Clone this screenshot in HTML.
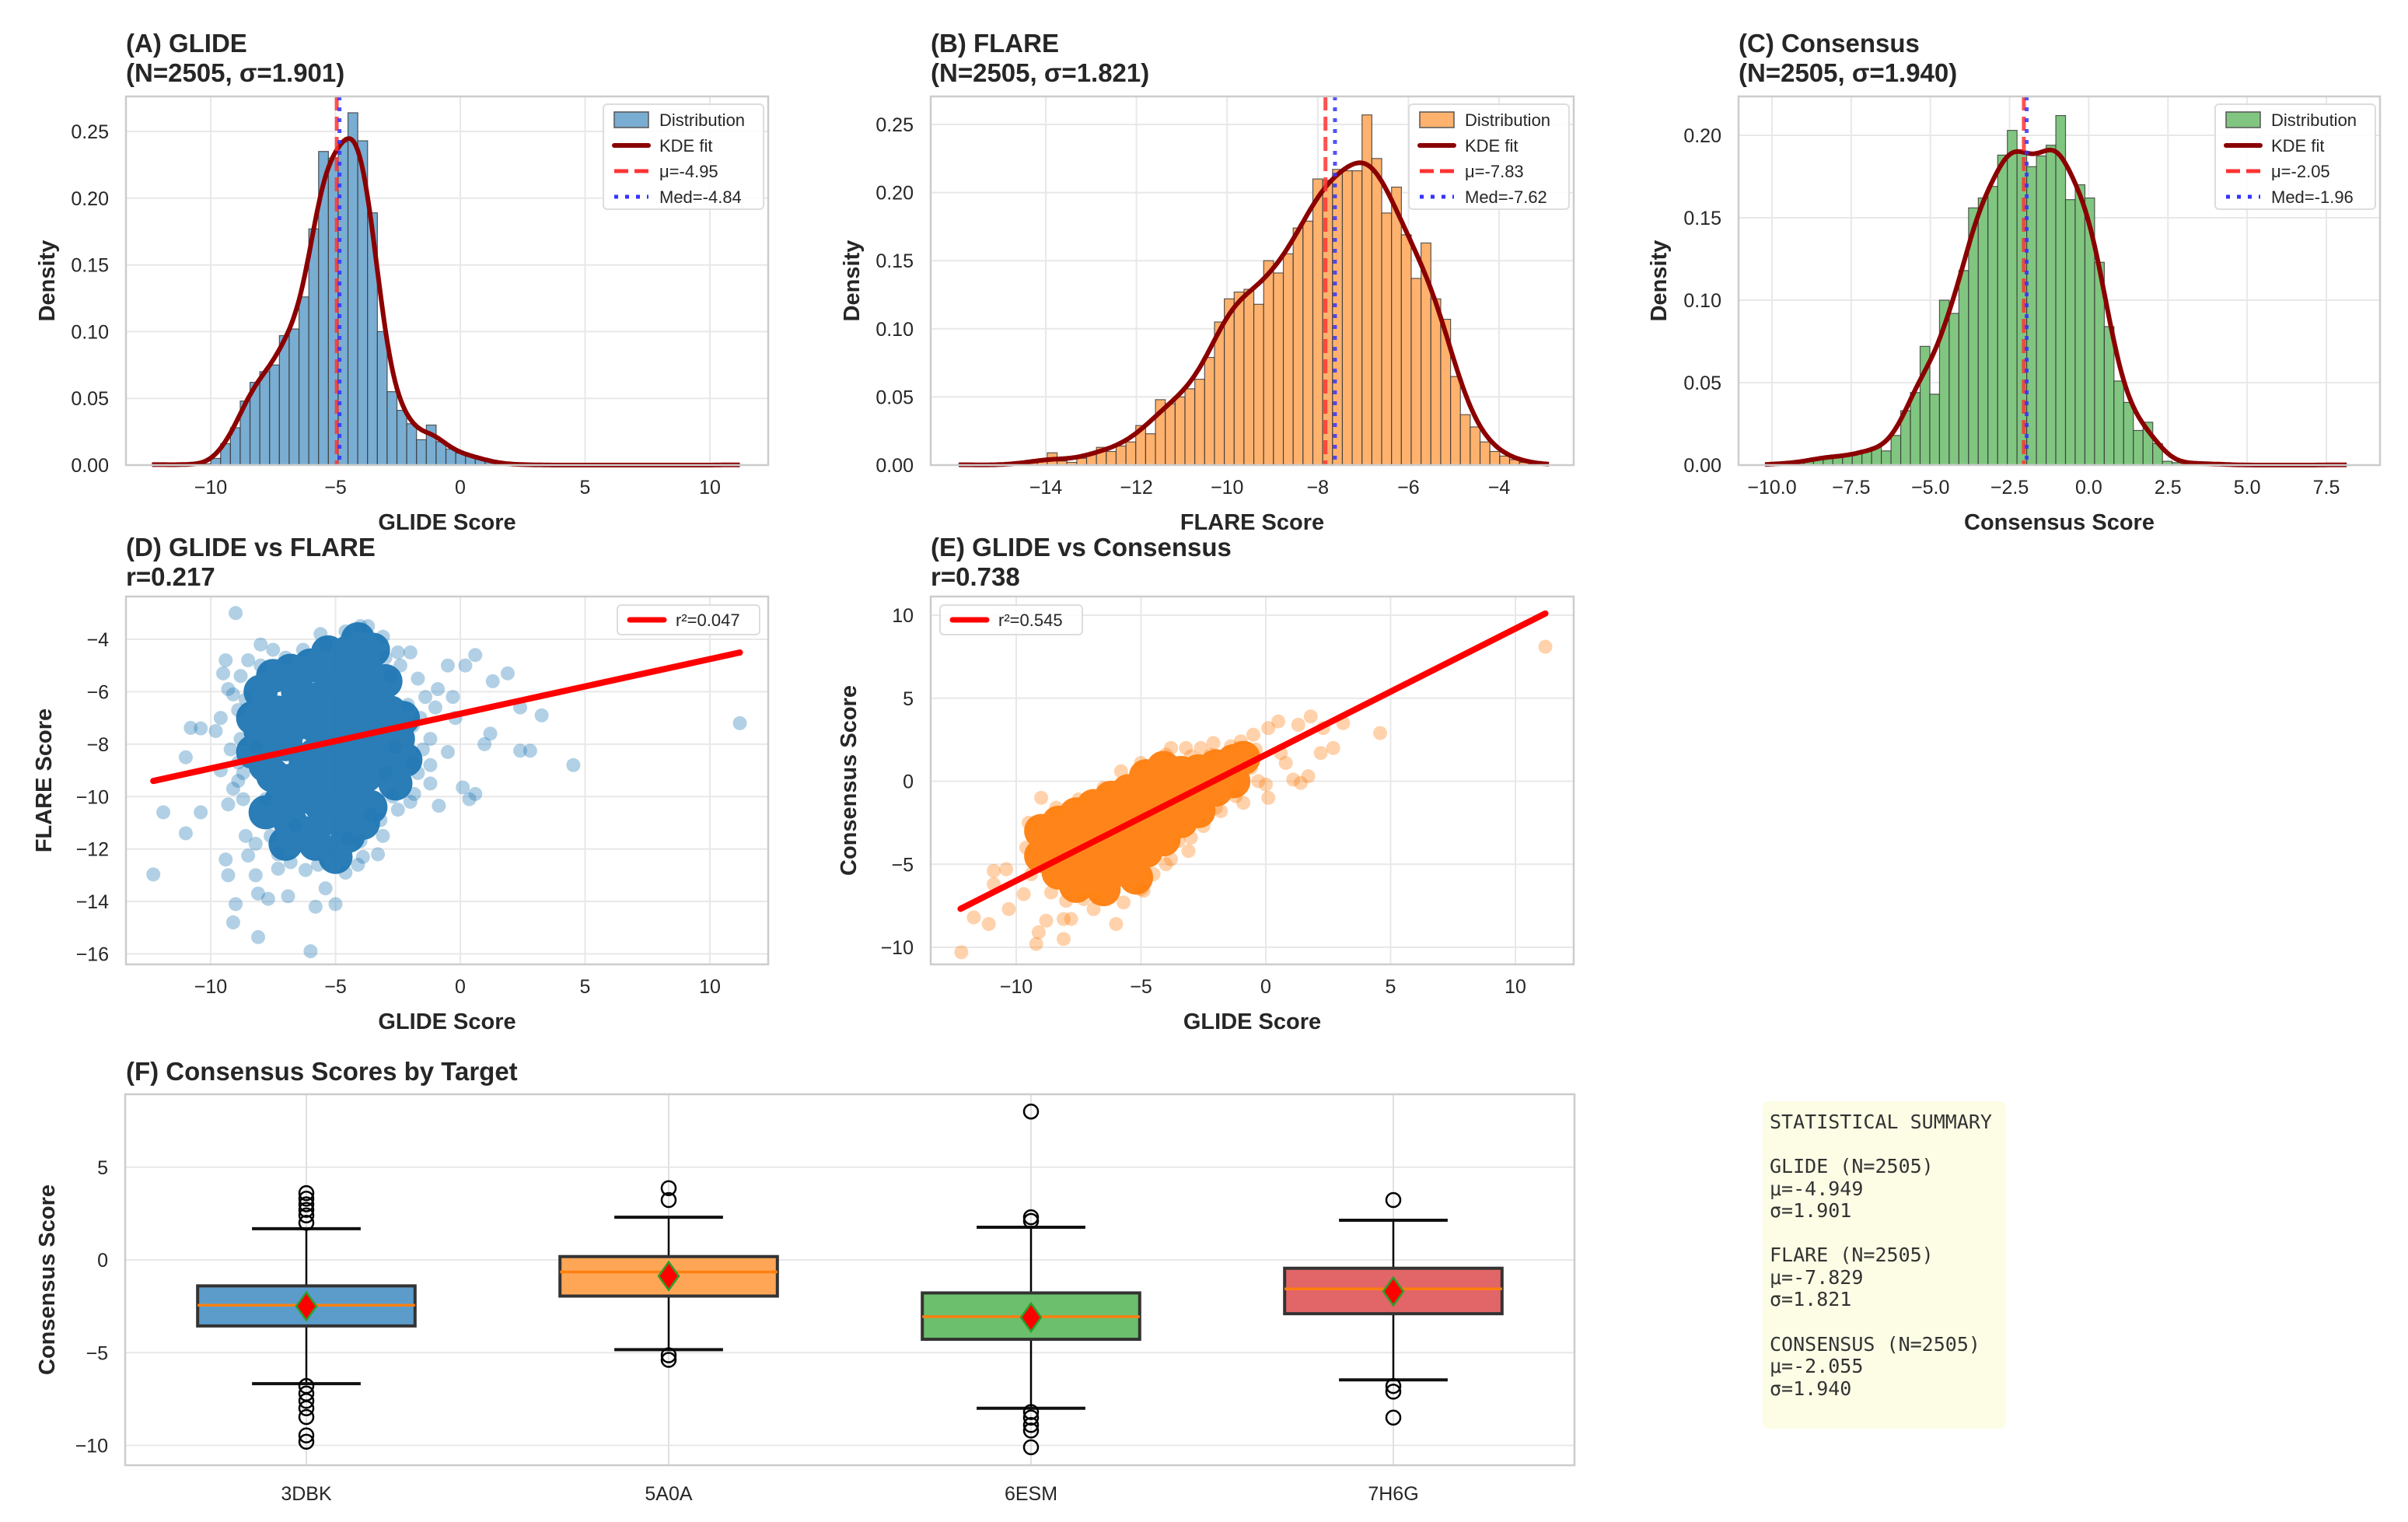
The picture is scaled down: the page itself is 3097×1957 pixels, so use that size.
<!DOCTYPE html>
<html><head><meta charset="utf-8"><style>
body{margin:0;background:#fff}
svg text{font-family:"Liberation Sans",sans-serif}
.tk{font-size:25px;fill:#262626}
.al{font-size:29px;font-weight:bold;fill:#262626}
.tt{font-size:33px;font-weight:bold;fill:#262626}
.lg{font-size:22px;fill:#262626}
.mono{font-family:"DejaVu Sans Mono","Liberation Mono",monospace;font-size:25px;fill:#333}
</style></head><body>
<svg id="fig" xmlns="http://www.w3.org/2000/svg" width="3097" height="1952" viewBox="0 0 3097 1952">
<rect width="3097" height="1952" fill="#fff"/>
</svg>
<script>
// ---------- data ----------
const glideHist = [0.001,0,0,0.001,0,0.001,0.005,0.016,0.028,0.048,0.062,0.070,0.075,0.097,0.102,0.126,0.177,0.235,0.230,0.242,0.264,0.243,0.189,0.100,0.055,0.041,0.031,0.019,0.030,0.0175,0.012,0.009,0.007,0.005,0.003,0.001,0.001,0,0.0005,0,0,0,0,0,0,0,0,0,0,0,0,0,0,0,0,0,0,0,0,0.0005];
const flareHist = [0.001,0,0,0,0,0,0.002,0.002,0.003,0.009,0.003,0.002,0.005,0.0085,0.013,0.010,0.014,0.017,0.029,0.023,0.048,0.045,0.050,0.056,0.063,0.079,0.105,0.122,0.127,0.129,0.118,0.150,0.141,0.155,0.174,0.179,0.210,0.209,0.217,0.216,0.216,0.257,0.225,0.185,0.204,0.169,0.137,0.163,0.122,0.107,0.065,0.037,0.028,0.017,0.010,0.0066,0.004,0.002,0.001,0.0005];
const consHist = [0.0005,0.001,0.001,0.0015,0.003,0.004,0.0055,0.005,0.0055,0.007,0.0086,0.011,0.0086,0.018,0.033,0.044,0.072,0.043,0.100,0.092,0.118,0.156,0.162,0.169,0.188,0.203,0.190,0.181,0.1875,0.194,0.212,0.161,0.170,0.162,0.123,0.084,0.051,0.038,0.021,0.026,0.013,0.0023,0.0015,0.001,0.001,0.001,0.0005,0.0005,0,0,0,0,0,0,0,0,0,0,0,0.0005];
const histStarts = [-12.35, -15.92, -10.22];
const histWidths = [0.3925, 0.217, 0.306];
const means = [-4.95, -7.83, -2.05];
const medians = [-4.84, -7.62, -1.96];
const meanLabels = ["μ=-4.95","μ=-7.83","μ=-2.05"];
const medLabels = ["Med=-4.84","Med=-7.62","Med=-1.96"];
const xTicksA = [-10,-5,0,5,10];
const xTicksB = [-14,-12,-10,-8,-6,-4];
const xTicksC = [-10,-7.5,-5,-2.5,0,2.5,5,7.5];
const xTickLabelsC = ["−10.0","−7.5","−5.0","−2.5","0.0","2.5","5.0","7.5"];
const yTicksAB = [0,0.05,0.10,0.15,0.20,0.25];
const yTicksC = [0,0.05,0.10,0.15,0.20];

const dCore = [[-4.5,-4.5],[-3.8,-5],[-5.2,-5.2],[-4.2,-6],[-5.5,-6.2],[-6.5,-6],[-3.3,-6.5],[-7.3,-6.8],[-4.8,-7],[-6,-7.2],[-3.5,-7.6],[-7,-8],[-5.2,-8],[-4.2,-8.5],[-6.2,-8.8],[-3.2,-8.8],[-7.5,-9.2],[-5.3,-9.3],[-4.3,-9.8],[-6.3,-10],[-5.2,-10.8],[-4.5,-11.5],[-6.8,-11],[-2.5,-7.8],[-8,-7.5],[-2.6,-9.5],[-7.2,-10.2],[-5.8,-11.8],[-4.1,-4],[-6.8,-5.2],[-8,-6],[-2.8,-6.8],[-5,-12.3],[-7.8,-8.8],[-4.8,-6.3],[-5.6,-7.5],[-4.9,-8.7],[-3.8,-9.2],[-6,-9.7],[-2.2,-8.6],[-7.5,-5.4],[-3,-5.6],[-6,-5],[-4.6,-5.5],[-6.8,-9.4],[-3.6,-10.4],[-5.6,-10.3],[-4.6,-10.4],[-6.2,-11.4],[-3.9,-11],[-7.8,-10.6],[-8.3,-7],[-2.3,-7],[-3.9,-6.9],[-6.5,-6.6],[-5.4,-6.8],[-6.9,-7.5],[-4.4,-7.6],[-5.8,-8.4],[-3.6,-8.2],[-8.3,-8.3],[-7,-11.8],[-5.3,-4.5],[-3.5,-4.4]];
const dPoints = [[-9,-3],[-10.8,-7.38],[-10.4,-7.4],[-9.8,-7.5],[-11,-8.5],[-11.9,-10.6],[-12.3,-12.97],[-11,-11.4],[-10.4,-10.6],[-9.1,-14.8],[-8.1,-15.36],[-6.0,-15.9],[-9.0,-14.1],[-8.1,-13.7],[-7.7,-13.9],[-6.9,-13.8],[-5.8,-14.2],[-5.0,-14.1],[-5.4,-13.5],[-4.6,-12.9],[-5.7,-12.6],[-6.8,-12.5],[-7.3,-12.75],[-8.2,-13],[-9.3,-13],[-9.4,-12.4],[-8.5,-12.25],[-3.9,-12.3],[-3.3,-12.2],[-4,-11.7],[-4.5,-11.6],[-3.2,-10.9],[-3.6,-10.7],[-0.86,-10.35],[0.36,-10.1],[0.6,-9.9],[0.1,-9.65],[-1.2,-9.5],[-1.85,-9.9],[-2.7,-10.0],[4.53,-8.8],[2.4,-8.25],[2.8,-8.25],[0.97,-8.0],[1.2,-7.6],[3.26,-6.9],[2.4,-6.6],[11.2,-7.2],[1.9,-5.3],[1.3,-5.6],[0.6,-4.6],[0.2,-5],[-0.5,-5],[-2,-4.5],[-2.5,-4.5],[-3.1,-3.9],[-3.7,-3.5],[-4,-3.5],[-5.6,-3.8],[-5.4,-4.2],[-8,-4.2],[-7.5,-4.4],[-9.4,-4.8],[-9.3,-5.9],[-9.1,-6.1],[-8.9,-6.7],[-9.2,-8.2],[-1.2,-8.8],[-0.9,-5.9],[-0.2,-7],[-1.2,-7.8],[-1.9,-8.7],[-9.3,-10.3],[-9.1,-9.7],[-8.6,-11.5],[-7.6,-11.5],[-1.9,-7.3],[-2.1,-6.5],[-2.8,-5.4],[-2.6,-8.1],[-3,-9.1],[-8.5,-4.8],[-8.2,-8.1],[-8.7,-9.1],[-7.8,-10.1],[-6.6,-11.1],[-8.8,-5.4],[-8.6,-6.3],[-8.8,-7.8],[-8.9,-8.7],[-8.7,-10.1],[-8.2,-11.8],[-7.3,-12.2],[-6.2,-12.8],[-4.1,-12.6],[-3.1,-11.5],[-2.5,-10.5],[-1.7,-9.1],[-1.5,-8.2],[-1.6,-7],[-1.4,-6.2],[-1.7,-5.5],[-2.4,-5],[-3,-4.7],[-4.6,-3.7],[-6.3,-4.4],[-7,-4.7],[-8,-5],[-9.5,-5.3],[-9.6,-7],[-9.6,-9],[-8.9,-9.4],[-2,-10.2],[-1,-6.6],[-0.5,-8.3],[-0.3,-6.2]];
const dFit = [0.2085, -6.84];
const dRange = [-12.3, 11.2];

const eCore = [[-9,-3],[-9,-4.5],[-8.3,-2.5],[-8.3,-4],[-8.3,-5.5],[-7.6,-2],[-7.6,-3.5],[-7.6,-5],[-7.6,-6.3],[-6.9,-1.5],[-6.9,-3],[-6.9,-4.5],[-6.9,-6],[-6.2,-1],[-6.2,-2.5],[-6.2,-4],[-6.2,-5.5],[-5.5,-0.6],[-5.5,-2],[-5.5,-3.5],[-5.5,-5],[-4.8,0.3],[-4.8,-1.3],[-4.8,-2.8],[-4.8,-4.2],[-4.1,0.8],[-4.1,-0.7],[-4.1,-2.2],[-4.1,-3.5],[-3.4,0.5],[-3.4,-1],[-3.4,-2.4],[-2.7,0.6],[-2.7,-0.6],[-2.7,-1.8],[-2.0,0.9],[-2.0,-0.5],[-1.3,1.2],[-1.3,0],[-8.6,-3.3],[-7.9,-4.3],[-7.2,-2.7],[-6.5,-3.3],[-5.8,-1.3],[-5.1,-2],[-4.4,0],[-3.7,-1.6],[-3.0,-0.1],[-2.3,0.2],[-5.8,-4.3],[-7.2,-5.3],[-1.6,0.6],[-0.9,1.4],[-6.5,-6.5],[-5.2,-5.8]];
const ePoints = [[-9,-1],[-12.2,-10.3],[-11.7,-8.2],[-11.1,-8.6],[-10.3,-7.7],[-10.9,-5.4],[-10.4,-5.3],[-10.9,-6.2],[-9.7,-6.8],[-9.2,-9.8],[-8.1,-9.5],[-9.1,-9.1],[-8.8,-8.4],[-8.1,-8.3],[-7.8,-8.3],[-6.0,-8.6],[-6.9,-7.7],[-7.3,-7.1],[-5.7,-7.3],[-4.9,-6.6],[-4.5,-5.6],[-3.1,-4.2],[-3.8,-4.7],[-3.0,-3.4],[-1.8,-1.8],[-0.9,-1.3],[0.1,-1],[-0.3,0],[1.4,-0.1],[1.1,0.1],[1.7,0.3],[0.8,1.1],[0.6,1.7],[2.2,1.7],[2.7,2],[4.58,2.9],[3.1,3.5],[2.3,3.2],[1.8,3.9],[1.3,3.4],[0.5,3.6],[0.1,3.2],[-0.5,2.8],[-1.4,2.1],[-2.1,2.3],[-2.6,2],[-3.2,2],[-3.8,2],[-5.8,0.6],[11.2,8.1],[-1,0.1],[0,-0.2],[-1.2,-0.6],[-9.6,-4],[-9.5,-2.5],[-9.4,-5.6],[-8.6,-6.7],[-8,-7.2],[-6.8,-7],[-5,-6.5],[-4,-5],[-3.5,-3.6],[-2.5,-2.7],[-2,-1.6],[-1.2,-0.9],[-0.6,0.8],[-0.4,1.9],[-1,2.4],[-2.2,1.6],[-3,1.5],[-4,1.6],[-5,1.1],[-6.5,-0.4],[-7.5,-1.1],[-8.4,-1.6]];
const eFit = [0.759, 1.6];
const eRange = [-12.23, 11.2];

const targets = ["3DBK","5A0A","6ESM","7H6G"];
const q1s = [-3.56,-1.95,-4.28,-2.9];
const q3s = [-1.4,0.18,-1.78,-0.45];
const medsF = [-2.44,-0.65,-3.06,-1.56];
const meansF = [-2.5,-0.87,-3.1,-1.7];
const whiskLo = [-6.67,-4.84,-8.0,-6.47];
const whiskHi = [1.68,2.3,1.76,2.14];
const fliers = [[3.6,3.3,3.0,2.7,2.4,2.0,-6.8,-7.2,-7.6,-8.0,-8.47,-9.46,-9.8],[3.87,3.23,-5.14,-5.39],[8.0,2.3,2.1,-8.2,-8.5,-8.9,-9.2,-10.1],[3.23,-6.8,-7.1,-8.5]];
const boxColors = ["#5b9ccb","#ffa556","#6cbf6c","#e26667"];

// ---------- helpers ----------
const NS="http://www.w3.org/2000/svg";
const svg=document.getElementById('fig');
function mk(tag,attrs,parent){const e=document.createElementNS(NS,tag);for(const k in attrs)e.setAttribute(k,attrs[k]);(parent||svg).appendChild(e);return e;}
function txt(s,attrs,parent){const e=mk('text',attrs,parent);e.textContent=s;return e;}
function lin(d0,d1,r0,r1){return v=>r0+(v-d0)*(r1-r0)/(d1-d0);}
function fmt(v){return v<0?"−"+Math.abs(v):String(v);}

function axesFrame(name,x0,x1,y0,y1,xs,ys,xticks,yticks,xlabels,ylabels,xtitle,ytitle,ytitleX){
  const g=mk('g',{});
  
  
  mk('rect',{x:x0,y:y0,width:x1-x0,height:y1-y0,fill:'#fff'},g);
  xticks.forEach((t,i)=>{const x=xs(t);
    const l=mk('line',{x1:x,x2:x,y1:y0,y2:y1,stroke:'#e8e8e8','stroke-width':2},g);
    
    const tl=txt(xlabels?xlabels[i]:fmt(t),{x:x,y:y1+37,'text-anchor':'middle',class:'tk'},g);
    });
  yticks.forEach((t,i)=>{const y=ys(t);
    const l=mk('line',{x1:x0,x2:x1,y1:y,y2:y,stroke:'#e8e8e8','stroke-width':2},g);
    
    const tl=txt(ylabels?ylabels[i]:fmt(t),{x:x0-22,y:y+9,'text-anchor':'end',class:'tk'},g);
    });
  if(xtitle){const a=txt(xtitle,{x:(x0+x1)/2,y:y1+83,'text-anchor':'middle',class:'al'},g);
    }
  if(ytitle){const cy=(y0+y1)/2;const a=txt(ytitle,{x:ytitleX,y:cy,'text-anchor':'middle',class:'al',transform:`rotate(-90 ${ytitleX} ${cy})`},g);
    }
  return g;
}
function frameBorder(g,x0,x1,y0,y1){const b=mk('rect',{x:x0,y:y0,width:x1-x0,height:y1-y0,fill:'none',stroke:'#cccccc','stroke-width':2.5},g);
  }
function title(lines,x,y,name){lines.forEach((s,i)=>{const t=txt(s,{x:x,y:y+i*38,class:'tt'});
  });}

// ---------- histograms ----------
const histPanels=[
 {hist:glideHist,x0:162,x1:988,xs:lin(-10,10,271,913),ys:lin(0,0.25,598,169),xt:xTicksA,xl:null,yt:yTicksAB,fill:'#79add2',title:["(A) GLIDE","(N=2505, σ=1.901)"],xtitle:"GLIDE Score",ytx:70,bw:0.45,id:'glide'},
 {hist:flareHist,x0:1197,x1:2024,xs:lin(-14,-4,1345,1928),ys:lin(0,0.25,598,160),xt:xTicksB,xl:null,yt:yTicksAB,fill:'#ffb26e',title:["(B) FLARE","(N=2505, σ=1.821)"],xtitle:"FLARE Score",ytx:1105,bw:0.4,id:'flare'},
 {hist:consHist,x0:2236,x1:3061,xs:lin(-10,7.5,2279,2992),ys:lin(0,0.2,598,174),xt:xTicksC,xl:xTickLabelsC,yt:yTicksC,fill:'#80c680',title:["(C) Consensus","(N=2505, σ=1.940)"],xtitle:"Consensus Score",ytx:2143,bw:0.42,id:'consensus'}
];
histPanels.forEach((p,pi)=>{
  const y0=124,y1=598;
  const ylab=p.yt.map(v=>v.toFixed(2));
  const g=axesFrame('histogram-'+p.id,p.x0,p.x1,y0,y1,p.xs,p.ys,p.xt,p.yt,p.xl,ylab,p.xtitle,"Density",p.ytx);
  const st=histStarts[pi],w=histWidths[pi];
  p.hist.forEach((h,i)=>{ if(h<=0)return;
    const xa=p.xs(st+i*w),xb=p.xs(st+(i+1)*w),yt=p.ys(h);
    const r=mk('rect',{x:xa,y:yt,width:xb-xa,height:y1-yt,fill:p.fill,stroke:'#333','stroke-width':1.2,'stroke-opacity':0.8},g);
    });
  const lo=st,hi=st+p.hist.length*w;let d='';
  for(let k=0;k<=300;k++){const x=lo+(hi-lo)*k/300;let s=0;
    p.hist.forEach((h,i)=>{const c=st+(i+0.5)*w;s+=h*w*Math.exp(-0.5*((x-c)/p.bw)**2)/(p.bw*Math.sqrt(2*Math.PI));});
    d+=(k?'L':'M')+p.xs(x).toFixed(1)+' '+p.ys(s).toFixed(1);}
  const kde=mk('path',{d:d,fill:'none',stroke:'#8b0000','stroke-width':6,'stroke-linejoin':'round'},g);
  
  const ml=mk('line',{x1:p.xs(means[pi]),x2:p.xs(means[pi]),y1:y0,y2:y1,stroke:'#ff3333','stroke-width':5,'stroke-dasharray':'18 8','stroke-opacity':0.85},g);
  
  const dl=mk('line',{x1:p.xs(medians[pi]),x2:p.xs(medians[pi]),y1:y0,y2:y1,stroke:'#3333ff','stroke-width':5,'stroke-dasharray':'5 9','stroke-opacity':0.85},g);
  
  frameBorder(g,p.x0,p.x1,y0,y1);
  const lx=p.x1-212,ly=134;
  const lg=mk('g',{},g);
  
  mk('rect',{x:lx,y:ly,width:206,height:135,rx:5,fill:'#fff','fill-opacity':0.85,stroke:'#dddddd','stroke-width':2},lg);
  const ex=lx+14,tx=lx+72;
  mk('rect',{x:ex,y:ly+10,width:44,height:20,fill:p.fill,stroke:'#555','stroke-width':1.5},lg);
  const e1=txt("Distribution",{x:tx,y:ly+28,class:'lg'},lg);
  mk('line',{x1:ex,x2:ex+44,y1:ly+53,y2:ly+53,stroke:'#8b0000','stroke-width':6,'stroke-linecap':'round'},lg);
  const e2=txt("KDE fit",{x:tx,y:ly+61,class:'lg'},lg);
  mk('line',{x1:ex,x2:ex+44,y1:ly+86,y2:ly+86,stroke:'#ff3333','stroke-width':5,'stroke-dasharray':'18 8'},lg);
  const e3=txt(meanLabels[pi],{x:tx,y:ly+94,class:'lg'},lg);
  mk('line',{x1:ex,x2:ex+44,y1:ly+119,y2:ly+119,stroke:'#3333ff','stroke-width':5,'stroke-dasharray':'5 9'},lg);
  const e4=txt(medLabels[pi],{x:tx,y:ly+127,class:'lg'},lg);
  title(p.title,p.x0,67,'panel-title-'+p.id);
});

// ---------- scatters ----------
function scatter(id,x0,x1,y0,y1,xs,ys,xt,yt,core,pts,color,fit,rng,label,ytitle,ytx,legendLeft){
  const g=axesFrame('scatter-'+id,x0,x1,y0,y1,xs,ys,xt,yt,null,null,"GLIDE Score",ytitle,ytx);
  pts.forEach(p=>{const c=mk('circle',{cx:xs(p[0]),cy:ys(p[1]),r:9,fill:color,'fill-opacity':0.35},g);
    });
  const cg=mk('g',{opacity:0.95},g);
  core.forEach(p=>{const c=mk('circle',{cx:xs(p[0]),cy:ys(p[1]),r:22,fill:color},cg);
    });
  const l=mk('line',{x1:xs(rng[0]),y1:ys(fit[0]*rng[0]+fit[1]),x2:xs(rng[1]),y2:ys(fit[0]*rng[1]+fit[1]),stroke:'#ff0000','stroke-width':8,'stroke-linecap':'round'},g);
  
  frameBorder(g,x0,x1,y0,y1);
  const lx=legendLeft?x0+12:x1-194,ly=y0+11;
  const lg=mk('g',{},g);
  mk('rect',{x:lx,y:ly,width:183,height:38,rx:5,fill:'#fff','fill-opacity':0.85,stroke:'#dddddd','stroke-width':2},lg);
  mk('line',{x1:lx+16,x2:lx+60,y1:ly+19,y2:ly+19,stroke:'#ff0000','stroke-width':7,'stroke-linecap':'round'},lg);
  const t=txt(label,{x:lx+75,y:ly+27,class:'lg'},lg);
}
scatter('glide-vs-flare',162,988,767,1240,lin(-10,10,271,913),lin(-4,-16,822,1226.5),xTicksA,[-4,-6,-8,-10,-12,-14,-16],dCore,dPoints,'#1f77b4',dFit,dRange,"r²=0.047","FLARE Score",66,false);
scatter('glide-vs-consensus',1197,2024,767,1240,lin(-10,10,1307,1949),lin(10,-10,791,1218),xTicksA,[10,5,0,-5,-10],eCore,ePoints,'#ff7f0e',eFit,eRange,"r²=0.545","Consensus Score",1101,true);
title(["(D) GLIDE vs FLARE","r=0.217"],162,715,'panel-title-d');
title(["(E) GLIDE vs Consensus","r=0.738"],1197,715,'panel-title-e');

// ---------- box plot ----------
(function(){
  const x0=161,x1=2025,y0=1407,y1=1884;
  const ys=lin(0,-5,1620,1739.25);
  const step=(x1-x0)/targets.length;
  const xc=i=>x0+step*(i+0.5);
  const g=mk('g',{});
  [5,0,-5,-10].forEach(t=>{const y=ys(t);
    const l=mk('line',{x1:x0,x2:x1,y1:y,y2:y,stroke:'#e8e8e8','stroke-width':2},g);
    const tl=txt(fmt(t),{x:x0-22,y:y+9,'text-anchor':'end',class:'tk'},g);});
  targets.forEach((t,i)=>{const x=xc(i);
    const l=mk('line',{x1:x,x2:x,y1:y0,y2:y1,stroke:'#e0e0e0','stroke-width':2},g);
    const tl=txt(t,{x:x,y:y1+45,'text-anchor':'middle',class:'tk'},g);});
  const bw=step*0.6,cw=step*0.3;
  targets.forEach((t,i)=>{const x=xc(i);
    const bg=mk('g',{},g);
    mk('line',{x1:x,x2:x,y1:ys(whiskHi[i]),y2:ys(q3s[i]),stroke:'#000','stroke-width':2.5},bg);
    mk('line',{x1:x,x2:x,y1:ys(q1s[i]),y2:ys(whiskLo[i]),stroke:'#000','stroke-width':2.5},bg);
    mk('line',{x1:x-cw/2,x2:x+cw/2,y1:ys(whiskHi[i]),y2:ys(whiskHi[i]),stroke:'#111','stroke-width':4},bg);
    mk('line',{x1:x-cw/2,x2:x+cw/2,y1:ys(whiskLo[i]),y2:ys(whiskLo[i]),stroke:'#111','stroke-width':4},bg);
    mk('rect',{x:x-bw/2,y:ys(q3s[i]),width:bw,height:ys(q1s[i])-ys(q3s[i]),fill:boxColors[i],stroke:'#333','stroke-width':4},bg);
    mk('line',{x1:x-bw/2,x2:x+bw/2,y1:ys(medsF[i]),y2:ys(medsF[i]),stroke:'#ff7f0e','stroke-width':3.5},bg);
    const my=ys(meansF[i]);
    const dm=mk('polygon',{points:`${x},${my-18} ${x+13},${my} ${x},${my+18} ${x-13},${my}`,fill:'#ff0000',stroke:'#2ca02c','stroke-width':2.5},bg);
    
    fliers[i].forEach(v=>{const c=mk('circle',{cx:x,cy:ys(v),r:9,fill:'none',stroke:'#000','stroke-width':2.5},bg);
      });
  });
  frameBorder(g,x0,x1,y0,y1);
  const cy=(y0+y1)/2;const a=txt("Consensus Score",{x:70,y:cy,'text-anchor':'middle',class:'al',transform:`rotate(-90 70 ${cy})`},g);
  
})();
title(["(F) Consensus Scores by Target"],162,1389,'panel-title-f');

// ---------- stats box ----------
(function(){
  const g=mk('g',{});
  mk('rect',{x:2267,y:1416,width:313,height:421,rx:8,fill:'#fdfde6'},g);
  const lines=["STATISTICAL SUMMARY","","GLIDE (N=2505)","μ=-4.949","σ=1.901","","FLARE (N=2505)","μ=-7.829","σ=1.821","","CONSENSUS (N=2505)","μ=-2.055","σ=1.940"];
  const ysx=[1451,0,1508,1537,1565,0,1622,1651,1679,0,1737,1765,1794];
  lines.forEach((s,i)=>{if(!s)return;const t=txt(s,{x:2276,y:ysx[i],class:'mono'},g);
    });
})();
</script>
</body></html>
